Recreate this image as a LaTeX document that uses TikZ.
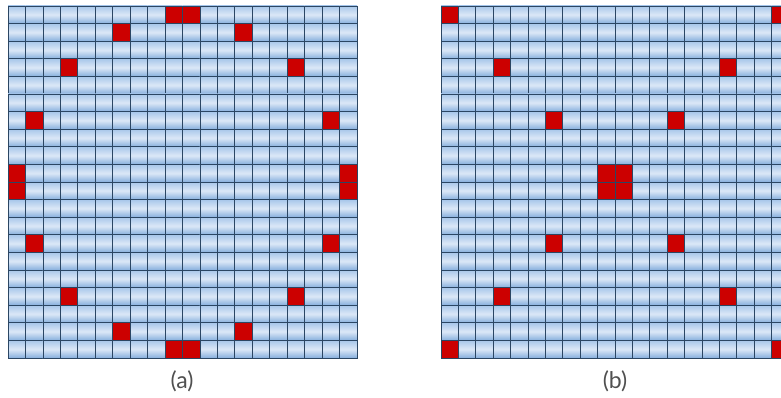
\documentclass[tikz,border=0pt]{standalone}
\usepackage{fontspec}
\setmainfont{Lato}
\definecolor{gridline}{HTML}{2B4663}
\definecolor{celltop}{HTML}{A8C7EA}
\definecolor{cellmid}{HTML}{DCE8F7}
\definecolor{cellbot}{HTML}{86AFDD}
\definecolor{hotred}{HTML}{CC0000}
\definecolor{captext}{HTML}{505050}
\tikzset{
  cell/.style={draw=gridline, line width=0.8pt, top color=celltop, bottom color=cellbot, middle color=cellmid},
  hot/.style={draw=gridline, line width=0.8pt, fill=hotred},
  caption/.style={text=captext, font=\fontsize{23}{27}\selectfont}
}
\begin{document}
\begin{tikzpicture}[x=1pt,y=1pt]
    \clip (0,0) rectangle (781,397);

    % layout (a)
    \begin{scope}[shift={(8,391)}, x=17.45pt, y=-17.6pt]
      \foreach \i in {0,...,19}
        \foreach \j in {0,...,19}
          \path[cell] (\i,\j) rectangle ++(1,1);
      \foreach \i/\j in {9/0,10/0,6/1,13/1,3/3,16/3,1/6,18/6,0/9,0/10,19/9,19/10,
                         1/13,18/13,3/16,16/16,6/18,13/18,9/19,10/19}
        \path[hot] (\i,\j) rectangle ++(1,1);
    \end{scope}

    % layout (b)
    \begin{scope}[shift={(441,391)}, x=17.4pt, y=-17.6pt]
      \foreach \i in {0,...,19}
        \foreach \j in {0,...,19}
          \path[cell] (\i,\j) rectangle ++(1,1);
      \foreach \i/\j in {0/0,19/0,3/3,16/3,6/6,13/6,9/9,10/9,9/10,10/10,
                         6/13,13/13,3/16,16/16,0/19,19/19}
        \path[hot] (\i,\j) rectangle ++(1,1);
    \end{scope}

    \node[caption] (capa) at (182,16) {(a)};
    \node[caption] (capb) at (615,16) {(b)};
\end{tikzpicture}
\end{document}
